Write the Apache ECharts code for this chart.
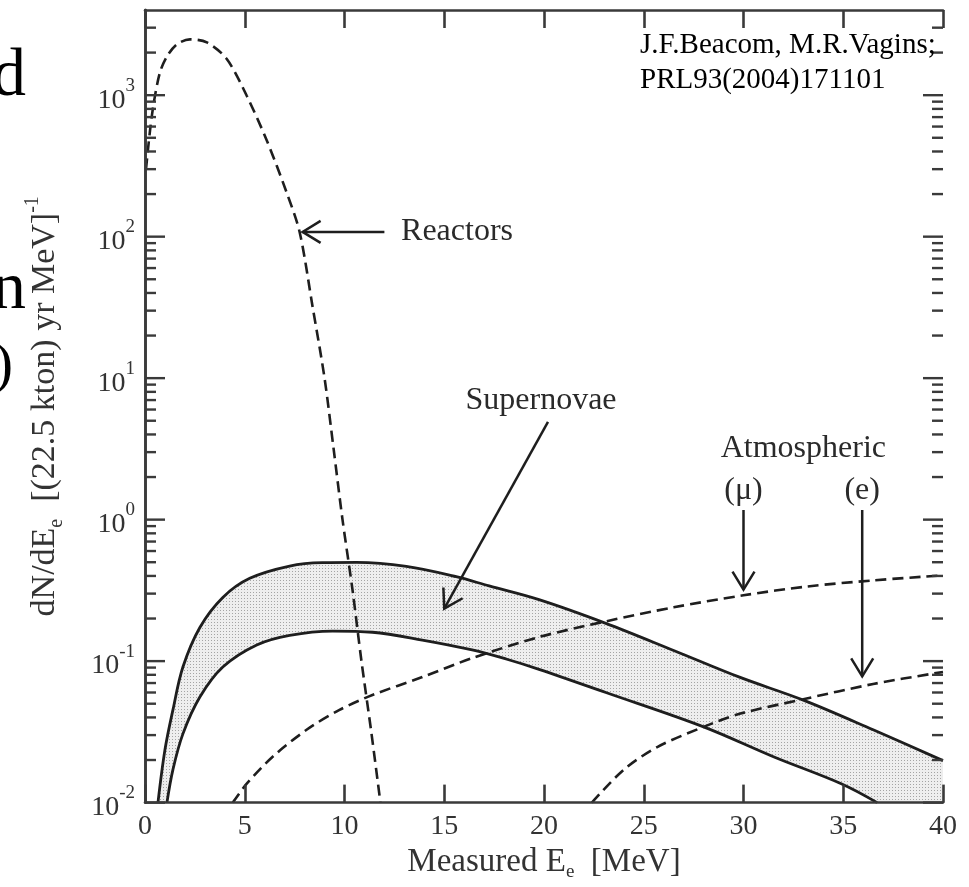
<!DOCTYPE html>
<html>
<head>
<meta charset="utf-8">
<script src="https://cdn.jsdelivr.net/npm/echarts@6/dist/echarts.min.js"></script>
<style>
  html, body { margin: 0; padding: 0; background: #fff; }
  #chart { width: 969px; height: 887px; }
</style>
</head>
<body>
<div id="chart"></div>
<script>
// measured positron energy (MeV) and rate per (22.5 kton) yr MeV
const reactorE = [0.05, 0.25, 0.45, 0.75, 1.1, 1.6, 2.25, 3.1, 4.1, 5.1, 6.1, 7.1, 7.75, 8.4, 9.0, 9.45, 9.9, 10.4, 10.85, 11.35, 11.8];
const reactorN = [300, 560, 900, 1450, 1880, 2290, 2480, 2360, 1800, 990, 480, 205, 108, 32, 10, 3.2, 1.0, 0.32, 0.1, 0.031, 0.01];

const snUpperE = [0.65, 1.0, 1.4, 1.9, 2.75, 3.9, 5.25, 7.25, 8.9, 10.6, 13.1, 15.6, 17.25, 19.75, 23.1, 26.5, 29.8, 33, 36.5, 40];
const snUpperN = [0.01, 0.0236, 0.0452, 0.0908, 0.173, 0.282, 0.385, 0.470, 0.496, 0.498, 0.467, 0.395, 0.340, 0.272, 0.185, 0.119, 0.077, 0.053, 0.0327, 0.0198];

const snLowerE = [1.1, 1.4, 1.9, 2.75, 3.9, 5.6, 7.25, 9.4, 11.4, 13.9, 16.4, 18.1, 19.75, 23.1, 28, 31.5, 34.9, 36.7];
const snLowerN = [0.01, 0.0171, 0.0306, 0.0557, 0.0908, 0.130, 0.152, 0.163, 0.160, 0.141, 0.120, 0.1035, 0.0875, 0.0600, 0.0343, 0.0211, 0.0136, 0.01];

const atmMuE = [4.4, 5.1, 6.4, 8.1, 9.75, 11.4, 13.9, 16.4, 19.75, 23.1, 26.5, 30, 33.2, 36.5, 40];
const atmMuN = [0.01, 0.0136, 0.0211, 0.0327, 0.0452, 0.0576, 0.0771, 0.105, 0.148, 0.191, 0.240, 0.292, 0.337, 0.372, 0.404];

const atmEE = [22.4, 24, 25.7, 28, 29.8, 33, 36.5, 40];
const atmEN = [0.01, 0.0171, 0.0248, 0.0343, 0.0424, 0.0538, 0.0689, 0.0838];

// log axis: decades and the minor steps inside each one
const decades = [0.01, 0.1, 1, 10, 100, 1000];
const minorSteps = [2, 3, 4, 5, 6, 7, 8, 9];

// annotation arrows [fromE, fromN, toE, toN] and labels [E, N]
const arrows = [
  [12.0, 108, 7.9, 108],
  [20.2, 4.9, 15.0, 0.235],
  [30.0, 1.17, 30.0, 0.32],
  [35.95, 1.17, 35.95, 0.078]
];
const labelText = ['Reactors', 'Supernovae', 'Atmospheric', '(\u03bc)', '(e)'];
const labelPos = [[15.64, 108], [19.85, 6.9], [33.0, 3.2], [30.0, 1.6], [35.95, 1.6]];

const pairs = (xs, ys) => xs.map((x, i) => [x, ys[i]]);
const majorTicks = decades.map((d) => [0, d]);
const minorTicks = [];
decades.forEach((d) => minorSteps.forEach((s) => {
  if (d * s < 4000) minorTicks.push([0, d * s]);
}));

const serif = '"Liberation Serif", "Times New Roman", serif';
const frameColor = '#3a3a3a';
const frame = { color: frameColor, width: 2.6 };
const ink = '#1e1e1e';

// dotted fill for the supernova band
const dots = document.createElement('canvas');
dots.width = 3;
dots.height = 3;
const g = dots.getContext('2d');
g.fillStyle = '#eeeeee';
g.fillRect(0, 0, 3, 3);
g.fillStyle = '#a4a4a4';
g.fillRect(1, 1, 1, 1);

function expLabel(v) {
  const p = Math.log10(v);
  const k = Math.round(p);
  if (Math.abs(p - k) > 1e-6) return '';
  return '{b|10}{s|' + k + '}';
}

// ticks on the left and right frame, drawn through the y scale
function tickSeries(data, len) {
  return {
    type: 'custom', z: 10, clip: false, silent: true,
    encode: { x: 0, y: 1 },
    data: data,
    renderItem: (params, api) => {
      const v = api.value(1);
      const p = api.coord([0, v]);
      const q = api.coord([40, v]);
      const st = { stroke: frameColor, lineWidth: 2.4 };
      return {
        type: 'group',
        children: [
          { type: 'line', shape: { x1: p[0], y1: p[1], x2: p[0] + len, y2: p[1] }, style: st },
          { type: 'line', shape: { x1: q[0] - len, y1: q[1], x2: q[0], y2: q[1] }, style: st }
        ]
      };
    }
  };
}

const chart = echarts.init(document.getElementById('chart'));

const dashed = { color: ink, width: 2.6, type: [11, 6] };

const option = {
  backgroundColor: '#fff',
  animation: false,
  grid: { left: 145, right: 26, top: 10, bottom: 81 },
  xAxis: [
    {
      type: 'value', min: 0, max: 40, interval: 5, position: 'bottom', z: 10,
      axisLine: { lineStyle: frame },
      axisTick: { inside: true, length: 18, lineStyle: frame },
      splitLine: { show: false },
      axisLabel: { fontFamily: serif, fontSize: 28, color: '#333', margin: 10 },
      name: '{t|Measured E}{sub|e}{t|  [MeV]}',
      nameLocation: 'middle',
      nameGap: 33,
      nameTextStyle: {
        color: '#333',
        rich: {
          t: { fontFamily: serif, fontSize: 33, color: '#333', verticalAlign: 'middle', lineHeight: 40 },
          sub: { fontFamily: serif, fontSize: 19, color: '#333', verticalAlign: 'bottom', lineHeight: 40 }
        }
      }
    },
    {
      type: 'value', min: 0, max: 40, interval: 5, position: 'top', z: 10,
      axisLine: { lineStyle: frame },
      axisTick: { inside: true, length: 18, lineStyle: frame },
      splitLine: { show: false },
      axisLabel: { show: false }
    }
  ],
  yAxis: [
    {
      type: 'log', logBase: 10, min: 0.01, max: 4000, position: 'left', z: 10,
      axisLine: { lineStyle: frame },
      axisTick: { show: false },
      splitLine: { show: false },
      axisLabel: {
        formatter: expLabel,
        margin: 10,
        rich: {
          b: { fontFamily: serif, fontSize: 28, color: '#333', verticalAlign: 'bottom', lineHeight: 38 },
          s: { fontFamily: serif, fontSize: 19, color: '#333', verticalAlign: 'top', lineHeight: 38 }
        }
      },
      name: '{t|dN/dE}{sub|e}{t|  [(22.5 kton) yr MeV]}{sup|-1}',
      nameLocation: 'middle',
      nameRotate: 90,
      nameGap: 78,
      nameTextStyle: {
        color: '#333',
        rich: {
          t: { fontFamily: serif, fontSize: 34, color: '#333', verticalAlign: 'middle', lineHeight: 44 },
          sub: { fontFamily: serif, fontSize: 20, color: '#333', verticalAlign: 'bottom', lineHeight: 44 },
          sup: { fontFamily: serif, fontSize: 20, color: '#333', verticalAlign: 'top', lineHeight: 44 }
        }
      }
    },
    {
      type: 'log', logBase: 10, min: 0.01, max: 4000, position: 'right', z: 10,
      axisLine: { lineStyle: frame },
      axisTick: { show: false },
      splitLine: { show: false },
      axisLabel: { show: false }
    }
  ],
  series: [
    {
      name: 'Supernovae (upper)', type: 'line', z: 2, smooth: 0.35, symbol: 'none',
      data: pairs(snUpperE, snUpperN),
      lineStyle: { color: ink, width: 2.8 },
      areaStyle: { color: { image: dots, repeat: 'repeat' }, opacity: 1, origin: 'start' }
    },
    {
      name: 'Supernovae (lower)', type: 'line', z: 3, smooth: 0.35, symbol: 'none',
      data: pairs(snLowerE, snLowerN),
      lineStyle: { color: ink, width: 2.8 },
      areaStyle: { color: '#fff', opacity: 1, origin: 'start' }
    },
    {
      name: 'Reactors', type: 'line', z: 4, smooth: 0.3, symbol: 'none',
      data: pairs(reactorE, reactorN), lineStyle: dashed
    },
    {
      name: 'Atmospheric mu', type: 'line', z: 4, smooth: 0.3, symbol: 'none',
      data: pairs(atmMuE, atmMuN), lineStyle: dashed
    },
    {
      name: 'Atmospheric e', type: 'line', z: 4, smooth: 0.3, symbol: 'none',
      data: pairs(atmEE, atmEN), lineStyle: dashed
    },
    tickSeries(majorTicks, 20),
    tickSeries(minorTicks, 11),
    {
      // arrows
      type: 'custom', z: 6, clip: false, silent: true,
      encode: { x: [0, 2], y: [1, 3] },
      data: arrows,
      renderItem: (params, api) => {
        const a = api.coord([api.value(0), api.value(1)]);
        const b = api.coord([api.value(2), api.value(3)]);
        const dx = b[0] - a[0];
        const dy = b[1] - a[1];
        const len = Math.sqrt(dx * dx + dy * dy);
        const ux = dx / len, uy = dy / len;
        const bx = b[0] - ux * 18, by = b[1] - uy * 18;
        const st = { stroke: ink, lineWidth: 2.5, fill: null };
        return {
          type: 'group',
          children: [
            { type: 'line', shape: { x1: a[0], y1: a[1], x2: b[0], y2: b[1] }, style: st },
            {
              type: 'polyline',
              shape: { points: [[bx - uy * 11, by + ux * 11], [b[0], b[1]], [bx + uy * 11, by - ux * 11]] },
              style: st
            }
          ]
        };
      }
    },
    {
      // annotation texts
      type: 'custom', z: 6, clip: false, silent: true,
      encode: { x: 0, y: 1 },
      data: labelPos,
      renderItem: (params, api) => {
        const p = api.coord([api.value(0), api.value(1)]);
        return {
          type: 'text',
          x: p[0], y: p[1],
          style: {
            text: labelText[params.dataIndex],
            font: '32px ' + serif,
            fill: '#2a2a2a',
            align: 'center',
            verticalAlign: 'middle'
          }
        };
      }
    }
  ],
  graphic: [
    {
      type: 'text', left: 640, top: 28, z: 20,
      style: {
        text: 'J.F.Beacom, M.R.Vagins;\nPRL93(2004)171101',
        font: '29px ' + serif, fill: '#000', lineHeight: 35
      }
    },
    { type: 'text', x: 26, y: 111, style: { text: 'd', font: '68px ' + serif, fill: '#000', align: 'right', verticalAlign: 'bottom' } },
    { type: 'text', x: 26, y: 324, style: { text: 'n', font: '68px ' + serif, fill: '#000', align: 'right', verticalAlign: 'bottom' } },
    { type: 'text', x: 13, y: 396, style: { text: ')', font: '58px ' + serif, fill: '#000', align: 'right', verticalAlign: 'bottom' } }
  ]
};

chart.setOption(option);
</script>
</body>
</html>
